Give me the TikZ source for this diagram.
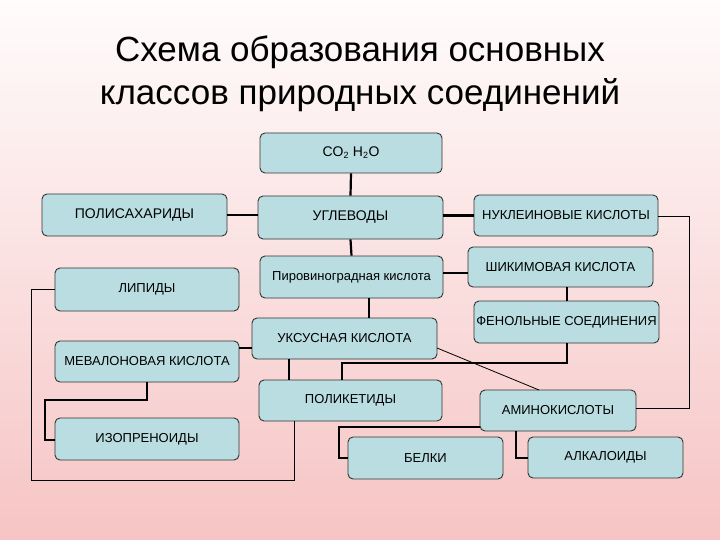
\documentclass[tikz,border=0pt]{standalone}
\usepackage{fontspec}
\setmainfont{Liberation Sans}
\begin{document}
\begin{tikzpicture}[x=1pt,y=-1pt,
  box/.style={draw=black!80,line width=0.9pt,fill=boxc,rounded corners=5pt,inner sep=0pt,font=\fontsize{14}{16}\selectfont},
  thick/.style={line width=2.2pt},
  thin/.style={line width=0.8pt}]
\definecolor{boxc}{RGB}{185,221,224}
\definecolor{topc}{RGB}{255,252,252}
\definecolor{botc}{RGB}{246,196,196}
\shade[top color=topc,bottom color=botc] (0,0) rectangle (720,540);
\useasboundingbox (0,0) rectangle (720,540);
\node[font=\fontsize{35}{43}\selectfont,align=center] (title) at (360,74) {Схема образования основных\\классов природных соединений};
\newcommand{\bx}[6]{\node[box,minimum width={#4-#2},minimum height={#5-#3}] (#1) at ({(#2+#4)/2},{(#3+#5)/2}) {#6};}
\newcommand{\sm}{\fontsize{13}{15}\selectfont}
\bx{co}{260}{133}{442}{173}{CO\textsubscript{\small 2} H\textsubscript{\small 2}O}
\bx{pol}{42}{194}{227}{236}{ПОЛИСАХАРИДЫ}
\bx{ugl}{258}{196}{443}{239}{УГЛЕВОДЫ}
\bx{nuk}{474}{195}{658}{236}{\sm НУКЛЕИНОВЫЕ КИСЛОТЫ}
\bx{pir}{260}{256}{443}{298}{\sm Пировиноградная кислота}
\bx{shi}{468}{247}{653}{287}{\sm ШИКИМОВАЯ КИСЛОТА}
\bx{lip}{55}{268}{239}{311}{\sm ЛИПИДЫ}
\bx{fen}{474}{301}{659}{343}{\sm ФЕНОЛЬНЫЕ СОЕДИНЕНИЯ}
\bx{uks}{252}{318}{437}{359}{\sm УКСУСНАЯ КИСЛОТА}
\bx{mev}{55}{341}{239}{382}{\sm МЕВАЛОНОВАЯ КИСЛОТА}
\bx{plk}{259}{380}{442}{421}{\sm ПОЛИКЕТИДЫ}
\bx{ami}{480}{390}{636}{431}{\sm АМИНОКИСЛОТЫ}
\bx{izo}{55}{418}{239}{460}{\sm ИЗОПРЕНОИДЫ}
\bx{bel}{348}{437}{503}{479}{\sm БЕЛКИ}
\bx{alk}{528}{437}{683}{478}{\sm АЛКАЛОИДЫ}
\draw[thick] (co.south) -- (ugl.north);
\draw[thick] (pol.east) -- (pol.east -| ugl.west);
\draw[thick] (ugl.east |- nuk.west) -- (nuk.west);
\draw[thick] (ugl.south) -- (pir.north);
\draw[thick] (pir.east |- 0,273) -- (shi.west |- 0,273);
\draw[thick] (567,287) -- (567,301);
\draw[thick] (369,298) -- (369,318);
\draw[thick] (uks.west |- 0,348) -- (mev.east |- 0,348);
\draw[thick] (147,382) -- (147,400) -- (45,400) -- (45,440) -- (izo.west |- 0,440);
\draw[thick] (289,359) -- (289,380);
\draw[thick] (567,343) -- (567,363) -- (342,363) -- (342,380);
\draw[thick] (ami.west |- 0,427) -- (339,427) -- (339,458) -- (bel.west |- 0,458);
\draw[thick] (516,431) -- (516,458) -- (alk.west |- 0,458);
\draw[thin] (lip.west |- 0,289) -- (31,289) -- (31,480) -- (294,480) -- (294,421);
\draw[thin] (437,348) -- (539,390);
\draw[thin] (nuk.east |- 0,216) -- (689,216) -- (689,408) -- (ami.east |- 0,408);
\end{tikzpicture}
\end{document}
